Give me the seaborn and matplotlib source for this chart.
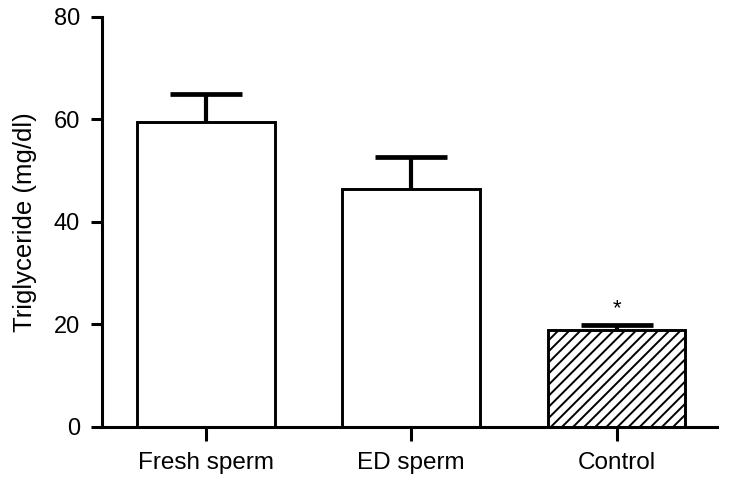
import numpy as np
import matplotlib
matplotlib.use("Agg")
import matplotlib.pyplot as plt
import seaborn as sns

# Values
groups = ["Fresh sperm", "ED sperm", "Control"]
means = [59.4, 46.4, 18.9]
sems = [5.6, 6.3, 1.0]
y_ticks = [0, 20, 40, 60, 80]

sns.set_theme(style="ticks")
plt.rcParams["font.family"] = ["Liberation Sans", "DejaVu Sans"]
plt.rcParams["hatch.linewidth"] = 1.4
plt.rcParams["text.color"] = "black"
plt.rcParams["axes.labelcolor"] = "black"
plt.rcParams["xtick.color"] = "black"
plt.rcParams["ytick.color"] = "black"

fig = plt.figure(figsize=(7.29, 4.86), dpi=100)
ax = fig.add_axes([0.140, 0.1214, 0.844, 0.844])

# Bars: white fill, black outline; control bar hatched
sns.barplot(x=groups, y=means, ax=ax, color="white", edgecolor="black",
            linewidth=2.1, width=0.67, errorbar=None, saturation=1)
for patch, hatch in zip(ax.patches, ["", "", "///"]):
    patch.set_hatch(hatch)
    patch.set_facecolor("white")
    patch.set_edgecolor("black")
    patch.set_zorder(2)

# Error bars sit behind the bars so only the upper half (mean + SEM) shows
x_pos = np.arange(len(groups))
ax.errorbar(x_pos, means, yerr=sems, fmt="none",
            ecolor="black", elinewidth=3.0, capsize=26, capthick=3.4, zorder=1)

# Significance marker above the control bar
ax.text(x_pos[2], means[2] + sems[2] + 1.2, "*", ha="center", va="bottom",
        fontsize=16, color="black")

ax.set_ylim(0, 80)
ax.set_xlim(-0.505, 2.49)
ax.set_yticks(y_ticks)
ax.set_ylabel("Triglyceride (mg/dl)", fontsize=18.5, labelpad=12)
ax.tick_params(axis="y", labelsize=17, width=2.2, length=8, pad=8)
ax.tick_params(axis="x", labelsize=17.5, width=2.2, length=10, pad=8)

sns.despine(ax=ax)
for side in ["left", "bottom"]:
    ax.spines[side].set_linewidth(2.2)
    ax.spines[side].set_color("black")

fig.savefig("out.png", dpi=100)
plt.close(fig)
